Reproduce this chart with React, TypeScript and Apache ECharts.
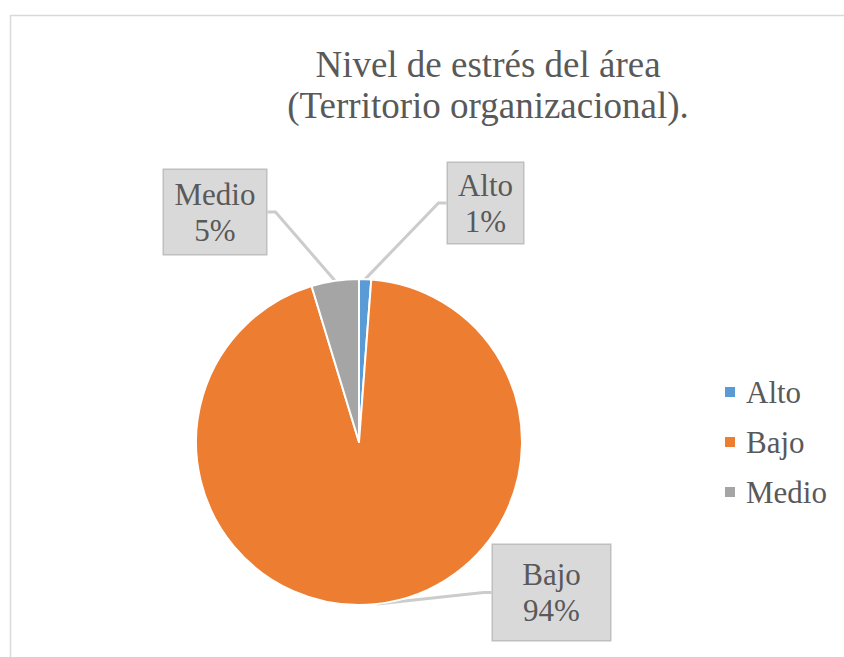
import React, { useEffect, useRef } from "react";
import * as echarts from "echarts";

const TITLE = "Nivel de estrés del área\n(Territorio organizacional).";
const categories = ["Alto", "Bajo", "Medio"];
const values = [1.2, 94.1, 4.7];
const colors = ["#5B9BD5", "#ED7D31", "#A5A5A5"];

// callout box geometry (center x, center y, width, height)
const labelBoxes = [
  [485.5, 203, 75, 80],
  [551.5, 592.5, 117, 95],
  [215, 212, 102, 84],
];

const FONT = '"Times New Roman", "Liberation Serif", serif';
const TEXT_COLOR = "#595959";

export default function App() {
  const ref = useRef<HTMLDivElement>(null);
  useEffect(() => {
    if (!ref.current) return;
    const chart = echarts.init(ref.current, undefined, { renderer: "svg" });
    const data = categories.map((name, i) => ({
      name,
      value: values[i],
      itemStyle: { color: colors[i] },
      label: {
        width: labelBoxes[i][2],
        padding: [(labelBoxes[i][3] - 72) / 2, 0],
      },
    }));
    chart.setOption({
      animation: false,
      backgroundColor: "#ffffff",
      textStyle: { fontFamily: FONT },
      title: {
        text: TITLE,
        left: 488,
        top: 44,
        padding: 0,
        textAlign: "center",
        textVerticalAlign: "top",
        textStyle: {
          fontFamily: FONT,
          fontSize: 37,
          lineHeight: 41,
          fontWeight: "normal",
          color: TEXT_COLOR,
        },
      },
      legend: {
        orient: "vertical",
        left: 723,
        top: 374,
        padding: 0,
        icon: "rect",
        itemWidth: 12,
        itemHeight: 12,
        itemGap: 14,
        selectedMode: false,
        data: categories,
        textStyle: {
          fontFamily: FONT,
          fontSize: 31,
          lineHeight: 36,
          color: TEXT_COLOR,
          padding: [0, 0, 0, 5],
        },
      },
      graphic: [
        {
          type: "rect",
          silent: true,
          shape: { x: 10.5, y: 15.5, width: 1000, height: 1000 },
          style: { fill: "none", stroke: "#D9D9D9", lineWidth: 1.5 },
        },
      ],
      series: [
        {
          type: "pie",
          center: [359, 442],
          radius: [0, 163],
          startAngle: 90,
          clockwise: true,
          percentPrecision: 0,
          avoidLabelOverlap: false,
          emphasis: { disabled: true },
          itemStyle: { borderColor: "#ffffff", borderWidth: 2 },
          label: {
            show: true,
            position: "outside",
            formatter: "{b}\n{d}%",
            fontFamily: FONT,
            fontSize: 31,
            lineHeight: 36,
            color: TEXT_COLOR,
            backgroundColor: "#D9D9D9",
            borderColor: "#BFBFBF",
            borderWidth: 1.5,
            align: "center",
          },
          labelLine: {
            show: true,
            length: 8,
            length2: 8,
            smooth: false,
            lineStyle: { color: "#CCCCCC", width: 3 },
          },
          labelLayout: (params: any) => ({
            x: labelBoxes[params.dataIndex][0],
            y: labelBoxes[params.dataIndex][1],
            align: "center",
            verticalAlign: "middle",
          }),
          data,
        },
      ],
    });
    return () => chart.dispose();
  }, []);
  return (
    <div
      ref={ref}
      style={{ position: "fixed", left: 0, top: 0, width: 844, height: 657 }}
    />
  );
}
